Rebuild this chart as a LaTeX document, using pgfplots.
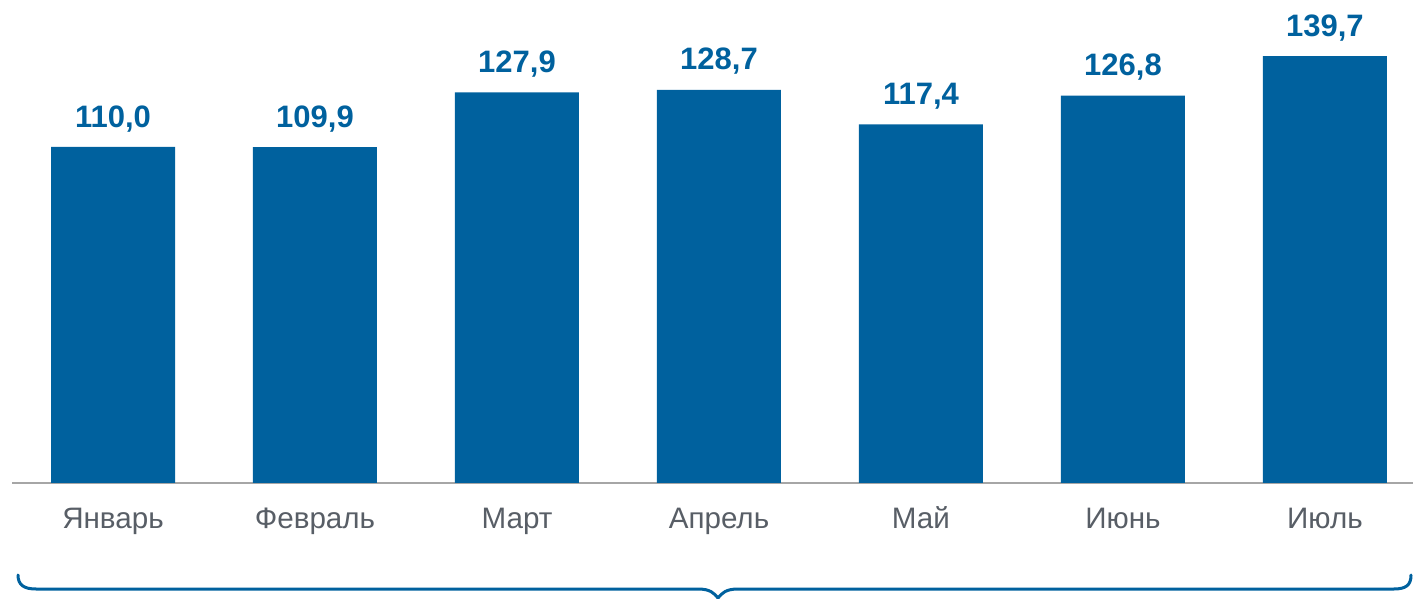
\documentclass[border=0pt]{standalone}
\usepackage{pgfplots}
\pgfplotsset{compat=1.18}
\usepackage{fontspec}
\setmainfont{Liberation Sans}
\definecolor{barblue}{RGB}{0,97,158}
\definecolor{labgray}{RGB}{88,94,102}
\definecolor{axgray}{RGB}{166,166,166}
\begin{document}
\begin{tikzpicture}[x=1pt,y=1pt]
\begin{axis}[
  at={(0,0)}, anchor=origin,
  scale only axis,
  width=700.5pt, height=241.5pt,
  xmin=-0.5, xmax=6.436,
  ymin=0, ymax=158.1,
  axis x line=bottom,
  axis y line=none,
  axis line style={draw=axgray, line width=0.7pt, -},
  xtick={0,1,2,3,4,5,6},
  xticklabels={Январь,Февраль,Март,Апрель,Май,Июнь,Июль},
  major tick length=0pt,
  xticklabel style={font=\fontsize{14.8}{16}\selectfont, text=labgray, anchor=base, yshift=-23pt},
  ybar, bar width=62pt,
  point meta=explicit symbolic,
  nodes near coords,
  nodes near coords style={font=\bfseries\fontsize{15.5}{17}\selectfont, text=barblue, anchor=south, yshift=4pt},
  clip=false,
]
\addplot[fill=barblue, draw=none] coordinates {
  (0,110.0) [110,0]
  (1,109.9) [109,9]
  (2,127.9) [127,9]
  (3,128.7) [128,7]
  (4,117.4) [117,4]
  (5,126.8) [126,8]
  (6,139.7) [139,7]
};
\end{axis}
\begin{scope}[xshift=-50.5pt]
\draw[barblue, line width=1.5pt, line cap=round]
  (3,-46) .. controls (3,-51) and (6,-53) .. (12,-53)
  -- (343,-53) .. controls (349,-53) and (351,-55) .. (353,-57.5)
  .. controls (355,-55) and (357,-53) .. (363,-53)
  -- (691,-53) .. controls (697,-53) and (699.5,-51) .. (699.5,-46);
\end{scope}
\pgfresetboundingbox
\path (-56.5,-58) rectangle (650,241.5);
\end{tikzpicture}
\end{document}
